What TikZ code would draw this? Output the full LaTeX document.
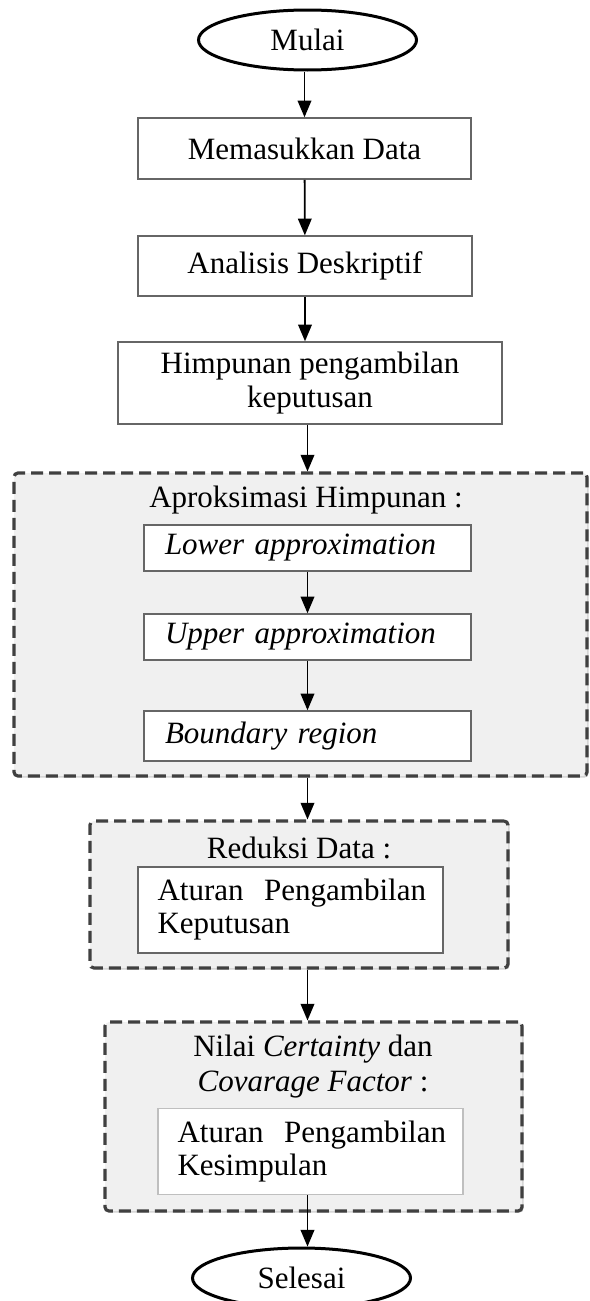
\documentclass[tikz,border=0pt]{standalone}
\usepackage{fontspec}
\setmainfont{Liberation Serif}
\usetikzlibrary{arrows,shapes,shadows}
\tikzset{terminal/.style={ellipse, draw=black, line width=1.5pt, fill=white, minimum width=109pt, minimum height=30pt, inner sep=0pt},
proses/.style={rectangle, draw=black!60, line width=0.8pt, fill=white, align=center},
subproses/.style={rectangle, draw=black!60, line width=0.8pt, fill=white, align=left, inner xsep=10.5pt, text width=142.5pt, minimum height=23pt},
aturan/.style={rectangle, draw=black!60, line width=0.8pt, fill=white, align=left, inner xsep=9.75pt, text width=133pt, minimum height=43pt, execute at begin node={\setlength{\baselineskip}{16.5pt}\hyphenpenalty 10000\relax}},
grup/.style={rectangle, rounded corners=2pt, draw=black!75, dash pattern=on 6pt off 3pt, line width=1.6pt, fill=black!6, drop shadow={shadow xshift=0.8pt, shadow yshift=-0.8pt, opacity=0.35}},
alur/.style={->, >=triangle 45, line width=0.9pt}}

\begin{document}
\begin{tikzpicture}[x=0.5pt,y=-0.5pt,font=\fontsize{15.5}{17}\selectfont]
\useasboundingbox (0,0) rectangle (589,1301);
\node[terminal] (mulai) at (307.5,40) {Mulai};
\node[proses, minimum width=166.5pt, minimum height=30.5pt] (masuk) at (304.5,148.5) {Memasukkan Data};
\node[proses, minimum width=167pt, minimum height=30pt] (deskriptif) at (305,266) {Analisis Deskriptif};
\node[proses, minimum width=192pt, minimum height=41pt] (himpunan) at (310,383) {Himpunan pengambilan\\keputusan};
% aproksimasi himpunan
\node[grup, minimum width=286.5pt, minimum height=151.5pt] (aproksimasi) at (300.5,624.5) {};
\node (judulA) at (306,500) {Aproksimasi Himpunan :};
\node[subproses] (lower) at (307.5,548) {\textit{Lower approximation}};
\node[subproses] (upper) at (307.5,637) {\textit{Upper approximation}};
\node[subproses, minimum height=25pt] (boundary) at (307.5,736) {\textit{Boundary region}};
% reduksi data
\node[grup, minimum width=209pt, minimum height=73.5pt] (reduksi) at (299,894.5) {};
\node (judulR) at (299,848) {Reduksi Data :};
\node[aturan] (keputusan) at (290.5,910) {Aturan~ Pengambilan\\Keputusan};
% certainty dan coverage
\node[grup, minimum width=208.5pt, minimum height=94.5pt] (nilai) at (313.5,1116.5) {};
\node[align=center, execute at begin node=\setlength{\baselineskip}{17.5pt}] (judulN) at (313,1067) {Nilai \textit{Certainty} dan\\\textit{Covarage Factor} :};
\node[aturan, draw=black!25] (kesimpulan) at (310.5,1151.5) {Aturan~ Pengambilan\\Kesimpulan};
\node[terminal] (selesai) at (301.5,1278) {Selesai};
% alur
\draw[alur] (masuk.north |- mulai.south) -- (masuk.north);
\draw[alur] (masuk) -- (deskriptif);
\draw[alur] (deskriptif.south) -- (deskriptif.south |- himpunan.north);
\draw[alur] (lower |- himpunan.south) -- (lower |- aproksimasi.north);
\draw[alur] (lower) -- (upper);
\draw[alur] (upper) -- (boundary);
\draw[alur] (lower |- aproksimasi.south) -- (lower |- reduksi.north);
\draw[alur] (lower |- reduksi.south) -- (lower |- nilai.north);
\draw[alur] (kesimpulan.south -| mulai) -- (selesai.north -| mulai);
\end{tikzpicture}
\end{document}
